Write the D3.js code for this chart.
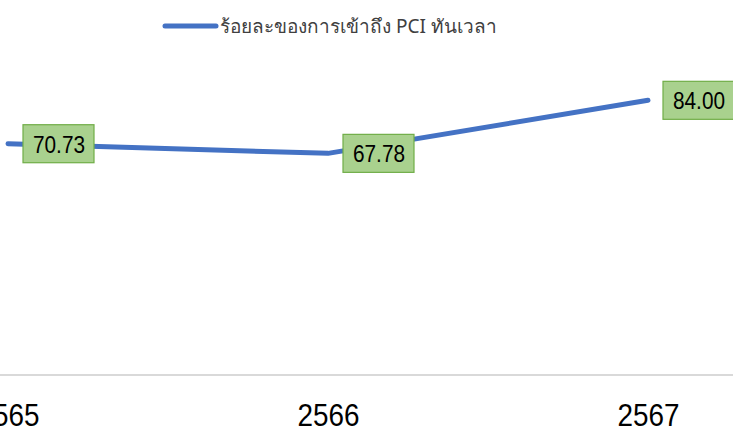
<!DOCTYPE html>
<html>
<head>
<meta charset="utf-8">
<script src="https://cdn.jsdelivr.net/npm/d3@7"></script>
<style>
  body { margin: 0; background: #fff; }
  svg { display: block; }
</style>
</head>
<body>
<script>
const years = ["2565", "2566", "2567"];
const values = [70.73, 67.78, 84.00];
const seriesName = "ร้อยละของการเข้าถึง PCI ทันเวลา";

const width = 733, height = 429;

const svg = d3.select("body").append("svg")
    .attr("width", width)
    .attr("height", height);

const x = d3.scalePoint()
    .domain(years)
    .range([8, 648]);

const y = d3.scaleLinear()
    .domain([0, 100])
    .range([375, 48]);

// category axis
const xAxis = svg.append("g")
    .attr("transform", `translate(0,${y(0)})`)
    .call(d3.axisBottom(x).tickSize(0).tickPadding(0));
xAxis.select(".domain").remove();
xAxis.append("line")
    .attr("x1", 0).attr("x2", width)
    .attr("stroke", "#d9d9d9").attr("stroke-width", 2);
xAxis.selectAll(".tick text")
    .attr("y", 51)
    .attr("dy", 0)
    .attr("fill", "#000")
    .style("font-family", "'Liberation Sans', Arial, sans-serif")
    .style("font-size", "31px")
    .attr("textLength", 62)
    .attr("lengthAdjust", "spacingAndGlyphs");

const data = years.map((d, i) => ({year: d, value: values[i]}));

svg.append("path")
    .datum(data)
    .attr("fill", "none")
    .attr("stroke", "#4472c4")
    .attr("stroke-width", 5)
    .attr("stroke-linecap", "round")
    .attr("stroke-linejoin", "round")
    .attr("d", d3.line().x(d => x(d.year)).y(d => y(d.value)));

// data labels
const labels = svg.append("g")
    .selectAll("g")
    .data(data)
    .join("g")
    .attr("transform", d => `translate(${x(d.year) + 15},${y(d.value)})`);
labels.append("rect")
    .attr("x", 0).attr("y", -19)
    .attr("width", 71).attr("height", 38)
    .attr("fill", "#a9d18e")
    .attr("stroke", "#70ad47")
    .attr("stroke-width", 1.2);
labels.append("text")
    .attr("x", 36).attr("y", 9)
    .attr("text-anchor", "middle")
    .style("font-family", "'Liberation Sans', Arial, sans-serif")
    .style("font-size", "24px")
    .attr("fill", "#000")
    .attr("textLength", 52)
    .attr("lengthAdjust", "spacingAndGlyphs")
    .text(d => d.value.toFixed(2));

// legend
const legend = svg.append("g");
legend.append("line")
    .attr("x1", 165).attr("x2", 216)
    .attr("y1", 26).attr("y2", 26)
    .attr("stroke", "#4472c4")
    .attr("stroke-width", 5)
    .attr("stroke-linecap", "round");
legend.append("text")
    .attr("x", 220).attr("y", 33)
    .style("font-family", "'Noto Sans', 'DejaVu Sans', sans-serif")
    .style("font-size", "19px")
    .attr("fill", "#404040")
    .text(seriesName);
</script>
</body>
</html>
